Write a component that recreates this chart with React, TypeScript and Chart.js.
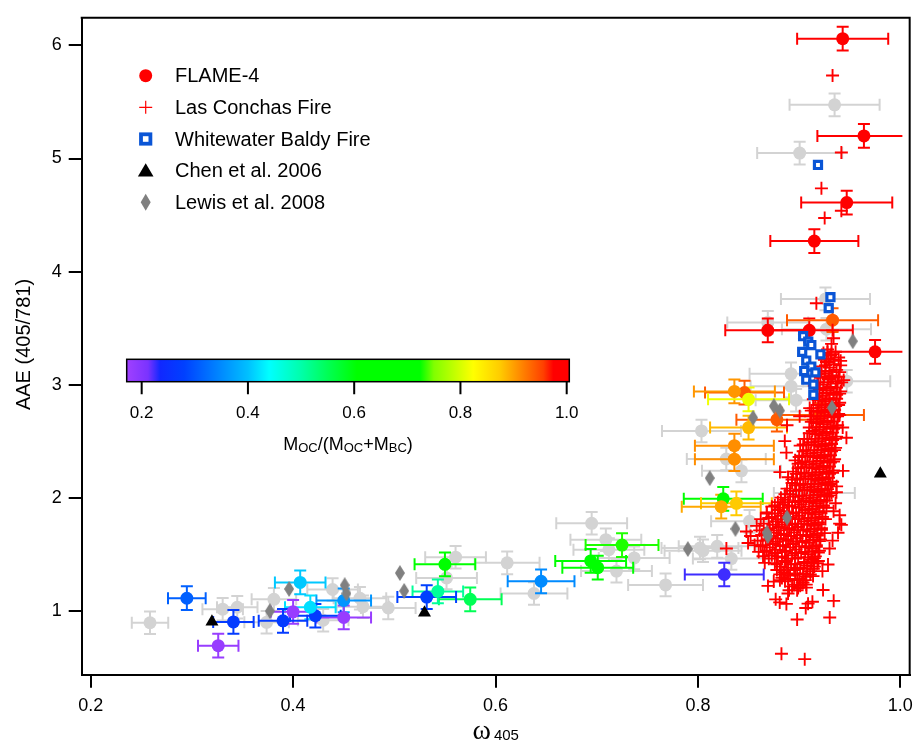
import React, { useEffect, useRef } from "react";
import { Chart, registerables } from "chart.js";

Chart.register(...registerables);

const FONT = '"Liberation Sans", Arial, Helvetica, sans-serif';

// ---------- axes ----------
const X_MIN = 0.1911;
const X_MAX = 1.0092;
const Y_MIN = 0.4335;
const Y_MAX = 6.245;
const X_TICKS = [0.2, 0.4, 0.6, 0.8, 1.0];
const Y_TICKS = [1, 2, 3, 4, 5, 6];
const ERRBAR_X_LIMIT = 1.002;

// ---------- FLAME-4 (with OC fraction) ----------
const flameX = [0.943, 0.964, 0.947, 0.915, 0.869, 0.910, 0.975, 0.933, 0.846, 0.836, 0.850, 0.878, 0.920, 0.850, 0.836, 0.836, 0.825, 0.838, 0.823, 0.826, 0.725, 0.694, 0.701, 0.645, 0.575, 0.550, 0.543, 0.532, 0.450, 0.450, 0.422, 0.417, 0.407, 0.400, 0.390, 0.341, 0.295, 0.326];
const flameY = [6.06, 5.20, 4.61, 4.27, 3.48, 3.48, 3.29, 3.57, 2.93, 2.94, 2.87, 2.69, 2.73, 2.62, 2.46, 2.34, 1.99, 1.95, 1.92, 1.32, 1.58, 1.44, 1.38, 1.26, 1.10, 1.41, 1.17, 1.12, 1.09, 0.94, 0.955, 1.03, 1.25, 0.99, 0.91, 0.90, 1.11, 0.69];
const flameXErr = [0.045, 0.046, 0.045, 0.0435, 0.042, 0.043, 0.047, 0.045, 0.039, 0.040, 0.040, 0.040, 0.044, 0.038, 0.039, 0.039, 0.039, 0.035, 0.039, 0.039, 0.036, 0.035, 0.035, 0.033, 0.031, 0.030, 0.025, 0.029, 0.027, 0.027, 0.025, 0.025, 0.025, 0.022, 0.024, 0.020, 0.0186, 0.020];
const flameYErr = [0.105, 0.105, 0.105, 0.105, 0.105, 0.105, 0.105, 0.105, 0.105, 0.105, 0.105, 0.105, 0.105, 0.105, 0.105, 0.105, 0.105, 0.105, 0.105, 0.105, 0.105, 0.105, 0.105, 0.105, 0.105, 0.105, 0.105, 0.105, 0.105, 0.105, 0.105, 0.105, 0.105, 0.105, 0.105, 0.105, 0.105, 0.105];
const flameOCFrac = [1, 1, 1, 1, 1, 1, 1, 0.94, 0.94, 0.905, 0.815, 0.94, 0.94, 0.885, 0.91, 0.91, 0.67, 0.875, 0.895, 0.225, 0.73, 0.68, 0.67, 0.35, 0.55, 0.69, 0.51, 0.28, 0.36, 0.18, 0.27, 0.42, 0.405, 0.18, 0.27, 0.27, 0.31, 0.18];

// ---------- FLAME-4 (no OC fraction, gray) ----------
const grayX = [0.935, 0.9005, 0.926, 0.927, 0.869, 0.892, 0.947, 0.892, 0.897, 0.8035, 0.828, 0.843, 0.915, 0.851, 0.768, 0.802, 0.805, 0.819, 0.833, 0.695, 0.709, 0.712, 0.737, 0.7195, 0.6115, 0.638, 0.5605, 0.5516, 0.494, 0.469, 0.466, 0.439, 0.4297, 0.381, 0.3738, 0.3448, 0.3304, 0.2586];
const grayY = [5.475, 5.048, 3.758, 3.49, 3.55, 3.095, 3.03, 2.985, 2.862, 2.59, 2.342, 2.237, 2.04, 1.79, 1.228, 1.554, 1.53, 1.569, 1.461, 1.773, 1.628, 1.54, 1.467, 1.35, 1.423, 1.152, 1.473, 1.29, 1.024, 1.035, 1.11, 1.187, 0.915, 1.1, 0.897, 1.03, 1.013, 0.893];
const grayXErr = [0.0445, 0.042, 0.044, 0.044, 0.04, 0.041, 0.043, 0.04, 0.04, 0.039, 0.039, 0.039, 0.04, 0.038, 0.037, 0.038, 0.038, 0.038, 0.038, 0.035, 0.035, 0.035, 0.035, 0.035, 0.032, 0.033, 0.03, 0.03, 0.027, 0.026, 0.026, 0.025, 0.025, 0.022, 0.022, 0.02, 0.02, 0.018];
const grayYErr = [0.1, 0.1, 0.1, 0.1, 0.1, 0.1, 0.1, 0.1, 0.1, 0.1, 0.1, 0.1, 0.1, 0.1, 0.1, 0.1, 0.1, 0.1, 0.1, 0.1, 0.1, 0.1, 0.1, 0.1, 0.1, 0.1, 0.1, 0.1, 0.1, 0.1, 0.1, 0.1, 0.1, 0.1, 0.1, 0.1, 0.1, 0.1];

// ---------- Las Conchas Fire ----------
const lasConchasOutliers: [number, number][] = [
  [0.933, 5.735], [0.9417, 5.053], [0.922, 4.736], [0.9417, 4.538], [0.9252, 4.474], [0.917, 3.72], [0.933, 3.48], [0.934, 3.41], [0.932, 3.36],
  [0.9104, 2.792], [0.9005, 2.72], [0.8858, 2.5], [0.8874, 2.398], [0.9467, 2.53], [0.9433, 2.237], [0.9368, 2.048], [0.94, 1.844], [0.94, 1.77], [0.9384, 1.689], [0.9417, 1.759], [0.9252, 1.686],
  [0.94, 2.73], [0.943, 2.62], [0.888, 2.64], [0.881, 2.226], [0.936, 1.95], [0.934, 1.88], [0.937, 2.1], [0.933, 1.62], [0.930, 1.55],
  [0.8281, 1.55], [0.8479, 1.7], [0.8495, 1.598], [0.866, 1.423], [0.8643, 1.482], [0.852, 1.66], [0.856, 1.58], [0.86, 1.52], [0.858, 1.75], [0.862, 1.81], [0.868, 1.86],
  [0.8825, 0.619], [0.9055, 0.571], [0.898, 0.922], [0.9302, 0.94], [0.9341, 1.087], [0.9236, 1.183], [0.9065, 1.024], [0.9131, 1.079], [0.9088, 1.062], [0.8874, 1.06], [0.8808, 1.073], [0.8768, 1.1], [0.889, 1.152], [0.898, 1.181], [0.9072, 1.204], [0.8692, 1.219], [0.8749, 1.257], [0.8808, 1.321], [0.9038, 1.248], [0.9137, 1.306], [0.9285, 1.409], [0.923, 1.35],
];
const lasConchasCluster: [number, number][] = [
  [0.928, 3.31], [0.936, 3.29], [0.931, 3.26], [0.939, 3.24], [0.925, 3.22], [0.927, 3.20], [0.934, 3.18], [0.941, 3.21],
  [0.930, 3.15], [0.937, 3.13], [0.922, 3.16], [0.926, 3.10], [0.933, 3.08], [0.940, 3.11], [0.918, 3.09],
  [0.929, 3.05], [0.936, 3.03], [0.921, 3.06], [0.944, 3.04], [0.924, 3.00], [0.931, 2.98], [0.938, 3.01], [0.915, 2.99],
  [0.927, 2.95], [0.934, 2.93], [0.920, 2.96], [0.941, 2.94], [0.923, 2.90], [0.930, 2.88], [0.937, 2.91], [0.916, 2.89],
  [0.926, 2.85], [0.933, 2.83], [0.919, 2.86], [0.940, 2.84], [0.922, 2.80], [0.929, 2.78], [0.936, 2.81], [0.914, 2.79],
  [0.925, 2.75], [0.932, 2.73], [0.918, 2.76], [0.939, 2.74], [0.911, 2.72], [0.921, 2.70], [0.928, 2.68], [0.935, 2.71], [0.914, 2.69],
  [0.924, 2.65], [0.931, 2.63], [0.917, 2.66], [0.938, 2.64], [0.910, 2.62], [0.920, 2.60], [0.927, 2.58], [0.934, 2.61], [0.913, 2.59],
  [0.923, 2.55], [0.930, 2.53], [0.916, 2.56], [0.937, 2.54], [0.908, 2.52], [0.919, 2.50], [0.926, 2.48], [0.933, 2.51], [0.912, 2.49], [0.904, 2.47],
  [0.922, 2.45], [0.929, 2.43], [0.915, 2.46], [0.936, 2.44], [0.907, 2.42], [0.918, 2.40], [0.925, 2.38], [0.932, 2.41], [0.911, 2.39], [0.903, 2.37],
  [0.921, 2.35], [0.928, 2.33], [0.914, 2.36], [0.935, 2.34], [0.906, 2.32], [0.899, 2.30], [0.917, 2.30], [0.924, 2.28], [0.931, 2.31], [0.910, 2.29], [0.902, 2.27],
  [0.920, 2.25], [0.927, 2.23], [0.913, 2.26], [0.934, 2.24], [0.905, 2.22], [0.897, 2.21], [0.916, 2.20], [0.923, 2.18], [0.930, 2.21], [0.909, 2.19], [0.901, 2.17], [0.893, 2.16],
  [0.919, 2.15], [0.926, 2.13], [0.912, 2.16], [0.933, 2.14], [0.904, 2.12], [0.896, 2.11], [0.915, 2.10], [0.922, 2.08], [0.929, 2.11], [0.908, 2.09], [0.900, 2.07], [0.891, 2.06],
  [0.918, 2.05], [0.925, 2.03], [0.911, 2.06], [0.932, 2.04], [0.903, 2.02], [0.894, 2.01], [0.886, 2.03], [0.914, 2.00], [0.921, 1.98], [0.928, 2.01], [0.907, 1.99], [0.899, 1.97], [0.889, 1.96],
  [0.917, 1.95], [0.924, 1.93], [0.910, 1.96], [0.902, 1.94], [0.893, 1.92], [0.884, 1.94], [0.876, 1.93], [0.913, 1.90], [0.920, 1.88], [0.927, 1.91], [0.906, 1.89], [0.897, 1.87], [0.888, 1.86], [0.879, 1.89],
  [0.916, 1.85], [0.923, 1.83], [0.909, 1.86], [0.900, 1.84], [0.891, 1.82], [0.882, 1.84], [0.873, 1.83], [0.912, 1.80], [0.919, 1.78], [0.926, 1.81], [0.905, 1.79], [0.896, 1.77], [0.886, 1.76], [0.877, 1.79],
  [0.915, 1.75], [0.922, 1.73], [0.908, 1.76], [0.899, 1.74], [0.890, 1.72], [0.880, 1.74], [0.871, 1.73], [0.911, 1.70], [0.918, 1.68], [0.904, 1.71], [0.895, 1.69], [0.885, 1.67], [0.875, 1.69], [0.866, 1.68],
  [0.914, 1.65], [0.921, 1.63], [0.907, 1.66], [0.898, 1.64], [0.889, 1.62], [0.879, 1.64], [0.869, 1.63], [0.910, 1.60], [0.917, 1.58], [0.903, 1.61], [0.894, 1.59], [0.884, 1.57], [0.874, 1.59], [0.864, 1.58],
  [0.913, 1.55], [0.920, 1.53], [0.906, 1.56], [0.897, 1.54], [0.887, 1.52], [0.877, 1.54], [0.868, 1.53], [0.909, 1.50], [0.916, 1.48], [0.902, 1.51], [0.893, 1.49], [0.883, 1.47], [0.873, 1.49],
  [0.912, 1.45], [0.905, 1.43], [0.896, 1.46], [0.886, 1.44], [0.876, 1.42], [0.919, 1.44], [0.908, 1.40], [0.901, 1.38], [0.892, 1.41], [0.882, 1.39], [0.915, 1.39],
  [0.911, 1.35], [0.904, 1.33], [0.895, 1.36], [0.885, 1.34], [0.878, 1.36], [0.907, 1.30], [0.900, 1.28], [0.891, 1.31], [0.883, 1.29], [0.903, 1.25], [0.895, 1.23], [0.886, 1.26], [0.899, 1.20], [0.890, 1.18],
];
const lasConchasClusterFill: [number, number][] = [
  [0.932, 3.27], [0.924, 3.28], [0.935, 3.22], [0.929, 3.23], [0.926, 3.17], [0.941, 3.17], [0.930, 3.12], [0.922, 3.12],
  [0.925, 3.07], [0.939, 3.07], [0.932, 3.065], [0.928, 3.02], [0.919, 3.02], [0.942, 3.02], [0.924, 2.97], [0.937, 2.975], [0.931, 2.965],
  [0.920, 2.92], [0.927, 2.925], [0.934, 2.915], [0.940, 2.92], [0.923, 2.87], [0.930, 2.865], [0.937, 2.875], [0.914, 2.87],
  [0.919, 2.82], [0.926, 2.825], [0.933, 2.815], [0.939, 2.82], [0.922, 2.77], [0.929, 2.765], [0.935, 2.775], [0.912, 2.77],
  [0.918, 2.72], [0.925, 2.725], [0.932, 2.715], [0.938, 2.72], [0.921, 2.67], [0.928, 2.665], [0.934, 2.675], [0.912, 2.67],
  [0.917, 2.62], [0.924, 2.625], [0.931, 2.615], [0.937, 2.62], [0.920, 2.57], [0.927, 2.565], [0.933, 2.575], [0.910, 2.57],
  [0.916, 2.52], [0.923, 2.525], [0.930, 2.515], [0.936, 2.52], [0.905, 2.52], [0.919, 2.47], [0.926, 2.465], [0.932, 2.475], [0.909, 2.47], [0.901, 2.46],
  [0.915, 2.42], [0.922, 2.425], [0.929, 2.415], [0.935, 2.42], [0.904, 2.41], [0.918, 2.37], [0.925, 2.365], [0.931, 2.375], [0.908, 2.37], [0.900, 2.36],
  [0.914, 2.32], [0.921, 2.325], [0.928, 2.315], [0.934, 2.32], [0.903, 2.31], [0.896, 2.33], [0.917, 2.27], [0.924, 2.265], [0.930, 2.275], [0.907, 2.27], [0.899, 2.26],
  [0.913, 2.22], [0.920, 2.225], [0.927, 2.215], [0.933, 2.22], [0.902, 2.21], [0.894, 2.23], [0.916, 2.17], [0.923, 2.165], [0.929, 2.175], [0.906, 2.17], [0.898, 2.16], [0.889, 2.18],
  [0.912, 2.12], [0.919, 2.125], [0.926, 2.115], [0.931, 2.12], [0.901, 2.11], [0.893, 2.13], [0.915, 2.07], [0.922, 2.065], [0.928, 2.075], [0.905, 2.07], [0.897, 2.06], [0.888, 2.08],
  [0.911, 2.02], [0.918, 2.025], [0.925, 2.015], [0.930, 2.02], [0.900, 2.01], [0.891, 2.03], [0.882, 2.0], [0.914, 1.97], [0.921, 1.965], [0.927, 1.975], [0.904, 1.97], [0.896, 1.96], [0.886, 1.98], [0.879, 1.96],
  [0.910, 1.92], [0.917, 1.925], [0.924, 1.915], [0.900, 1.91], [0.890, 1.93], [0.881, 1.91], [0.873, 1.92], [0.913, 1.87], [0.920, 1.865], [0.903, 1.87], [0.894, 1.86], [0.885, 1.88], [0.876, 1.86], [0.868, 1.87],
  [0.909, 1.82], [0.916, 1.825], [0.923, 1.815], [0.899, 1.81], [0.889, 1.83], [0.879, 1.81], [0.870, 1.82], [0.912, 1.77], [0.919, 1.765], [0.902, 1.77], [0.893, 1.76], [0.883, 1.78], [0.874, 1.76], [0.865, 1.77],
  [0.908, 1.72], [0.915, 1.725], [0.922, 1.715], [0.898, 1.71], [0.888, 1.73], [0.878, 1.71], [0.869, 1.72], [0.861, 1.71], [0.911, 1.67], [0.918, 1.665], [0.901, 1.67], [0.892, 1.66], [0.882, 1.68], [0.872, 1.66], [0.863, 1.67],
  [0.907, 1.62], [0.914, 1.625], [0.920, 1.615], [0.897, 1.61], [0.887, 1.63], [0.877, 1.61], [0.867, 1.62], [0.859, 1.62], [0.910, 1.57], [0.917, 1.565], [0.900, 1.57], [0.891, 1.56], [0.881, 1.58], [0.871, 1.56], [0.862, 1.57],
  [0.906, 1.52], [0.913, 1.525], [0.919, 1.515], [0.896, 1.51], [0.886, 1.53], [0.876, 1.51], [0.866, 1.52], [0.909, 1.47], [0.915, 1.465], [0.899, 1.47], [0.889, 1.46], [0.879, 1.48], [0.870, 1.46],
  [0.905, 1.42], [0.912, 1.425], [0.896, 1.41], [0.887, 1.43], [0.878, 1.41], [0.918, 1.42], [0.908, 1.37], [0.898, 1.37], [0.889, 1.38], [0.881, 1.36], [0.914, 1.37],
  [0.904, 1.32], [0.896, 1.32], [0.888, 1.33], [0.911, 1.32], [0.906, 1.27], [0.898, 1.27], [0.889, 1.28], [0.881, 1.27], [0.901, 1.22], [0.893, 1.215], [0.907, 1.23],
];

// ---------- Whitewater Baldy Fire ----------
const whitewaterX = [0.9186, 0.9309, 0.9292, 0.9039, 0.909, 0.912, 0.903, 0.921, 0.907, 0.912, 0.905, 0.916, 0.907, 0.914, 0.914];
const whitewaterY = [4.943, 3.773, 3.677, 3.428, 3.38, 3.35, 3.29, 3.268, 3.213, 3.16, 3.12, 3.108, 3.043, 3.0, 2.91];

// ---------- Chen et al. 2006 ----------
const chenX = [0.3198, 0.5298, 0.9802];
const chenY = [0.902, 0.982, 2.211];

// ---------- Lewis et al. 2008 ----------
const lewisX = [0.953, 0.9324, 0.875, 0.881, 0.8545, 0.8117, 0.888, 0.868, 0.869, 0.837, 0.790, 0.5055, 0.5097, 0.451, 0.4527, 0.396, 0.377];
const lewisY = [3.384, 2.795, 2.81, 2.77, 2.707, 2.173, 1.823, 1.689, 1.66, 1.724, 1.545, 1.333, 1.175, 1.225, 1.152, 1.192, 0.996];

// ---------- legend / colorbar ----------
const LEGEND_LABELS = ["FLAME-4", "Las Conchas Fire", "Whitewater Baldy Fire", "Chen et al. 2006", "Lewis et al. 2008"];
const CB_MIN = 0.1718;
const CB_MAX = 1.0049;
const CB_TICKS = [0.2, 0.4, 0.6, 0.8, 1.0];
const COLOR_STOPS: [number, string][] = [
  [0.172, "#a040ff"], [0.212, "#7a33ff"], [0.235, "#1028ff"], [0.28, "#0040ff"], [0.34, "#0080ff"], [0.40, "#00c0ff"],
  [0.44, "#00ffff"], [0.50, "#00ffaa"], [0.55, "#00ff55"], [0.605, "#00ff00"], [0.724, "#00ff00"], [0.75, "#80ff00"],
  [0.824, "#ffff00"], [0.874, "#ffcc00"], [0.918, "#ff8000"], [0.956, "#ff4000"], [0.975, "#ff0000"], [1.005, "#ff0000"],
];

const RED = "#ff0000";
const GRAY = "#d3d3d3";
const DIAMOND = "#808080";
const BLUE = "#0a55d6";

function hexRgb(h: string): number[] {
  return [parseInt(h.slice(1, 3), 16), parseInt(h.slice(3, 5), 16), parseInt(h.slice(5, 7), 16)];
}
function colorFor(v: number): string {
  if (v <= COLOR_STOPS[0][0]) return COLOR_STOPS[0][1];
  for (let i = 1; i < COLOR_STOPS.length; i++) {
    const [v1, c1] = COLOR_STOPS[i];
    if (v <= v1) {
      const [v0, c0] = COLOR_STOPS[i - 1];
      const t = (v - v0) / (v1 - v0);
      const a = hexRgb(c0), b = hexRgb(c1);
      const r = a.map((q, k) => Math.round(q + (b[k] - q) * t));
      return `rgb(${r[0]},${r[1]},${r[2]})`;
    }
  }
  return COLOR_STOPS[COLOR_STOPS.length - 1][1];
}

function makeDiamond(w: number, h: number): HTMLCanvasElement {
  const c = document.createElement("canvas");
  c.width = w;
  c.height = h;
  const g = c.getContext("2d")!;
  g.fillStyle = DIAMOND;
  g.beginPath();
  g.moveTo(w / 2, 0);
  g.lineTo(w, h / 2);
  g.lineTo(w / 2, h);
  g.lineTo(0, h / 2);
  g.closePath();
  g.fill();
  return c;
}

export default function App() {
  const ref = useRef<HTMLCanvasElement>(null);

  useEffect(() => {
    const canvas = ref.current!;
    const diamond = makeDiamond(10, 16);
    const flameColors = flameOCFrac.map(colorFor);

    const errorBars = {
      id: "errorBars",
      beforeDatasetDraw(chart: any, args: any) {
        const ds: any = chart.data.datasets[args.index];
        if (!ds.errX) return;
        const xs = chart.scales.x, ys = chart.scales.y;
        const ctx = chart.ctx;
        const ca = chart.chartArea;
        const clipR = xs.getPixelForValue(ERRBAR_X_LIMIT);
        ctx.save();
        ctx.beginPath();
        ctx.rect(ca.left, ca.top, clipR - ca.left, ca.bottom - ca.top);
        ctx.clip();
        ctx.lineWidth = 2;
        const cap = 6;
        ds.data.forEach((p: any, i: number) => {
          ctx.strokeStyle = Array.isArray(ds.errColor) ? ds.errColor[i] : ds.errColor;
          const cx = xs.getPixelForValue(p.x), cy = ys.getPixelForValue(p.y);
          const xl = xs.getPixelForValue(p.x - ds.errX[i]), xr = xs.getPixelForValue(p.x + ds.errX[i]);
          const yt = ys.getPixelForValue(p.y + ds.errY[i]), yb = ys.getPixelForValue(p.y - ds.errY[i]);
          ctx.beginPath();
          ctx.moveTo(xl, cy); ctx.lineTo(xr, cy);
          ctx.moveTo(xl, cy - cap); ctx.lineTo(xl, cy + cap);
          ctx.moveTo(xr, cy - cap); ctx.lineTo(xr, cy + cap);
          ctx.moveTo(cx, yt); ctx.lineTo(cx, yb);
          ctx.moveTo(cx - cap, yt); ctx.lineTo(cx + cap, yt);
          ctx.moveTo(cx - cap, yb); ctx.lineTo(cx + cap, yb);
          ctx.stroke();
        });
        ctx.restore();
      },
    };

    const decor = {
      id: "decor",
      afterDraw(chart: any) {
        const ctx: CanvasRenderingContext2D = chart.ctx;
        const ca = chart.chartArea;
        ctx.save();
        ctx.strokeStyle = "#000";
        ctx.lineWidth = 2;
        ctx.beginPath();
        ctx.moveTo(ca.left - 1, ca.top);
        ctx.lineTo(ca.right, ca.top);
        ctx.lineTo(ca.right, ca.bottom + 1);
        ctx.stroke();

        // y title
        ctx.fillStyle = "#000";
        ctx.save();
        ctx.translate(24, 344.5);
        ctx.rotate(-Math.PI / 2);
        ctx.font = `20px ${FONT}`;
        ctx.textAlign = "center";
        ctx.textBaseline = "middle";
        ctx.fillText("AAE (405/781)", 0, 0);
        ctx.restore();

        // x title  ω405
        ctx.textAlign = "left";
        ctx.textBaseline = "alphabetic";
        const omegaFont = `28px "Liberation Serif", "DejaVu Serif", serif`;
        ctx.font = omegaFont;
        const wW = ctx.measureText("ω").width;
        ctx.font = `15px ${FONT}`;
        const nW = ctx.measureText("405").width;
        const cxT = (ca.left + ca.right) / 2;
        const startX = cxT - (wW + 3 + nW) / 2;
        ctx.font = omegaFont;
        ctx.fillText("ω", startX, 739);
        ctx.font = `15px ${FONT}`;
        ctx.fillText("405", startX + wW + 3, 740);

        // legend
        const lx = 145.7, tx = 175;
        const ly = [75.7, 107.3, 139, 170.7, 202.3];
        ctx.fillStyle = RED;
        ctx.beginPath(); ctx.arc(lx, ly[0], 6.5, 0, Math.PI * 2); ctx.fill();
        ctx.strokeStyle = RED; ctx.lineWidth = 1.2;
        ctx.beginPath();
        ctx.moveTo(lx - 6.5, ly[1]); ctx.lineTo(lx + 6.5, ly[1]);
        ctx.moveTo(lx, ly[1] - 6.5); ctx.lineTo(lx, ly[1] + 6.5);
        ctx.stroke();
        ctx.strokeStyle = BLUE; ctx.lineWidth = 3.8;
        ctx.strokeRect(lx - 4.7, ly[2] - 4.7, 9.4, 9.4);
        ctx.fillStyle = "#000";
        ctx.beginPath();
        ctx.moveTo(lx, ly[3] - 7.5); ctx.lineTo(lx + 7.8, ly[3] + 5.8); ctx.lineTo(lx - 7.8, ly[3] + 5.8); ctx.closePath();
        ctx.fill();
        ctx.fillStyle = DIAMOND;
        ctx.beginPath();
        ctx.moveTo(lx, ly[4] - 8.5); ctx.lineTo(lx + 5, ly[4]); ctx.lineTo(lx, ly[4] + 8.5); ctx.lineTo(lx - 5, ly[4]); ctx.closePath();
        ctx.fill();
        ctx.fillStyle = "#000";
        ctx.font = `20px ${FONT}`;
        ctx.textBaseline = "middle";
        LEGEND_LABELS.forEach((t, i) => ctx.fillText(t, tx, ly[i] + 1));

        // colorbar
        const cbL = 126.7, cbR = 569.3, cbT = 359.3, cbB = 381.7;
        const cbX = (v: number) => cbL + ((v - CB_MIN) / (CB_MAX - CB_MIN)) * (cbR - cbL);
        const grad = ctx.createLinearGradient(cbL, 0, cbR, 0);
        COLOR_STOPS.forEach(([v, c]) => {
          const t = Math.min(1, Math.max(0, (v - CB_MIN) / (CB_MAX - CB_MIN)));
          grad.addColorStop(t, c);
        });
        ctx.fillStyle = grad;
        ctx.fillRect(cbL, cbT, cbR - cbL, cbB - cbT);
        ctx.strokeStyle = "#000"; ctx.lineWidth = 1.5;
        ctx.strokeRect(cbL, cbT, cbR - cbL, cbB - cbT);
        ctx.lineWidth = 2;
        ctx.beginPath();
        CB_TICKS.forEach((v) => {
          const x = cbX(v);
          ctx.moveTo(x, cbB); ctx.lineTo(x, cbB + 12.5);
        });
        ctx.stroke();
        ctx.fillStyle = "#000";
        ctx.font = `17px ${FONT}`;
        ctx.textAlign = "center";
        ctx.textBaseline = "alphabetic";
        CB_TICKS.forEach((v) => ctx.fillText(v.toFixed(1), cbX(v), 418));

        const parts: [string, boolean][] = [["M", false], ["OC", true], ["/(M", false], ["OC", true], ["+M", false], ["BC", true], [")", false]];
        const big = `18px ${FONT}`, small = `13px ${FONT}`;
        let total = 0;
        parts.forEach(([s, sub]) => { ctx.font = sub ? small : big; total += ctx.measureText(s).width; });
        let x = 348 - total / 2;
        ctx.textAlign = "left";
        parts.forEach(([s, sub]) => {
          ctx.font = sub ? small : big;
          ctx.fillText(s, x, sub ? 452 : 450);
          x += ctx.measureText(s).width;
        });
        ctx.restore();
      },
    };

    const pts = (xs: number[], ys: number[]) => xs.map((x, i) => ({ x, y: ys[i] }));
    const lcPts = [...lasConchasOutliers, ...lasConchasCluster, ...lasConchasClusterFill].map(([x, y]) => ({ x, y }));

    const chart = new Chart(canvas, {
      type: "scatter",
      data: {
        datasets: [
          {
            label: "FLAME-4 (no OC data)",
            data: pts(grayX, grayY),
            order: 6,
            pointStyle: "circle",
            pointRadius: 6.5,
            pointHoverRadius: 6.5,
            pointBackgroundColor: GRAY,
            pointBorderWidth: 0,
            errX: grayXErr,
            errY: grayYErr,
            errColor: GRAY,
          } as any,
          {
            label: "FLAME-4",
            data: pts(flameX, flameY),
            order: 5,
            pointStyle: "circle",
            pointRadius: 6.5,
            pointHoverRadius: 6.5,
            pointBackgroundColor: flameColors,
            pointBorderWidth: 0,
            errX: flameXErr,
            errY: flameYErr,
            errColor: flameColors,
          } as any,
          {
            label: "Las Conchas Fire",
            data: lcPts,
            order: 4,
            pointStyle: "cross",
            pointRadius: 6.5,
            pointHoverRadius: 6.5,
            pointBorderColor: RED,
            pointBorderWidth: 1.9,
          },
          {
            label: "Whitewater Baldy Fire",
            data: pts(whitewaterX, whitewaterY),
            order: 3,
            pointStyle: "rect",
            pointRadius: 5,
            pointHoverRadius: 5,
            pointBackgroundColor: "#ffffff",
            pointBorderColor: BLUE,
            pointBorderWidth: 3.2,
          },
          {
            label: "Chen et al. 2006",
            data: pts(chenX, chenY),
            order: 2,
            pointStyle: "triangle",
            pointRadius: 7.5,
            pointHoverRadius: 7.5,
            pointBackgroundColor: "#000",
            pointBorderWidth: 0,
          },
          {
            label: "Lewis et al. 2008",
            data: pts(lewisX, lewisY),
            order: 1,
            pointStyle: diamond as any,
            pointRadius: 8,
            pointHoverRadius: 8,
          },
        ],
      },
      options: {
        animation: false,
        responsive: false,
        events: [],
        layout: { padding: { left: 0, top: 11, right: 11, bottom: 0 } },
        plugins: { legend: { display: false }, tooltip: { enabled: false } },
        scales: {
          x: {
            type: "linear",
            position: "bottom",
            min: X_MIN,
            max: X_MAX,
            afterBuildTicks: (s: any) => { s.ticks = X_TICKS.map((v) => ({ value: v })); },
            afterFit: (s: any) => { s.height = 69.3; },
            grid: { drawOnChartArea: false, drawTicks: true, tickLength: 13, tickWidth: 2, tickColor: "#000", color: "#000", lineWidth: 2 },
            border: { display: true, color: "#000", width: 2 },
            ticks: {
              callback: (v: any) => Number(v).toFixed(1),
              font: { size: 18, family: FONT },
              color: "#000",
              padding: 8,
              maxRotation: 0,
              autoSkip: false,
            },
          },
          y: {
            type: "linear",
            min: Y_MIN,
            max: Y_MAX,
            afterBuildTicks: (s: any) => { s.ticks = Y_TICKS.map((v) => ({ value: v })); },
            afterFit: (s: any) => { s.width = 81.7; },
            grid: { drawOnChartArea: false, drawTicks: true, tickLength: 13, tickWidth: 2, tickColor: "#000", color: "#000", lineWidth: 2 },
            border: { display: true, color: "#000", width: 2 },
            ticks: {
              callback: (v: any) => String(v),
              font: { size: 18, family: FONT },
              color: "#000",
              padding: 7,
              autoSkip: false,
            },
          },
        },
      },
      plugins: [errorBars, decor],
    } as any);

    return () => chart.destroy();
  }, []);

  return (
    <div style={{ position: "absolute", left: 0, top: 0, width: 921, height: 744, background: "#fff" }}>
      <canvas ref={ref} width={921} height={744} style={{ display: "block", width: 921, height: 744 }} />
    </div>
  );
}
